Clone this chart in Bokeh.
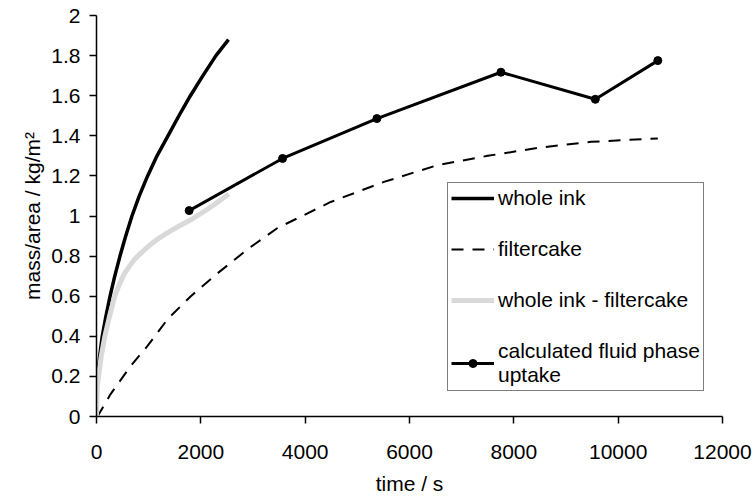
from bokeh.plotting import figure
from bokeh.models import Range1d, FixedTicker, NumeralTickFormatter, Legend, LegendItem
from bokeh.embed import file_html
from bokeh.resources import INLINE

# whole ink uptake (mass per area) against time
whole_t = [0, 20, 60, 110, 180, 260, 350, 450, 560, 680, 820, 980, 1160, 1370,
           1580, 1800, 2040, 2290, 2530]
whole_v = [0, 0.2, 0.3, 0.4, 0.5, 0.6, 0.7, 0.8, 0.9, 1.0, 1.1, 1.2, 1.3, 1.4,
           1.5, 1.6, 1.7, 1.8, 1.88]

# filtercake mass per area
cake_t = [0, 30, 274, 658, 978, 1361, 1808, 2300, 2926, 3470, 4490, 5510, 6540,
          7500, 8520, 9480, 10760]
cake_v = [0, 0.005, 0.113, 0.253, 0.352, 0.485, 0.60, 0.71, 0.84, 0.94, 1.07, 1.17,
          1.254, 1.30, 1.342, 1.37, 1.387]

# whole ink minus filtercake
diff_t = [0, 15, 40, 90, 160, 250, 350, 440, 530, 620, 720, 850, 1000, 1170, 1350,
          1550, 1800, 2050, 2300, 2537]
diff_v = [0, 0.15, 0.2, 0.3, 0.4, 0.5, 0.6, 0.66, 0.71, 0.745, 0.78, 0.815, 0.85,
          0.885, 0.915, 0.945, 0.98, 1.02, 1.065, 1.11]

# calculated fluid phase uptake
calc_t = [1776, 3567, 5375, 7753, 9562, 10760]
calc_v = [1.027, 1.287, 1.486, 1.717, 1.582, 1.775]

x_ticks = [0, 2000, 4000, 6000, 8000, 10000, 12000]
y_ticks = [0, 0.2, 0.4, 0.6, 0.8, 1.0, 1.2, 1.4, 1.6, 1.8, 2.0]

FONT = "Liberation Sans"
FS = "21px"

p = figure(width=754, height=497, output_backend="svg", toolbar_location=None,
           x_range=Range1d(0, 12000), y_range=Range1d(0, 2),
           min_border_left=96, min_border_right=32, min_border_top=15,
           min_border_bottom=79)
p.outline_line_color = None
p.xgrid.visible = False
p.ygrid.visible = False
p.background_fill_color = "white"
p.border_fill_color = "white"

r_whole = p.line(whole_t, whole_v, line_color="black", line_width=3.5,
                 line_join="round")
r_cake = p.line(cake_t, cake_v, line_color="black", line_width=2, line_dash="12 9")
r_diff = p.line(diff_t, diff_v, line_color="#d9d9d9", line_width=5,
                line_join="round")
r_calc = p.line(calc_t, calc_v, line_color="black", line_width=3)
r_calc_pts = p.scatter(calc_t, calc_v, size=8, marker="circle",
                       fill_color="black", line_color="black")

for ax in (p.xaxis[0], p.yaxis[0]):
    ax.axis_line_color = "black"
    ax.axis_line_width = 1.5
    ax.major_tick_line_color = "black"
    ax.major_tick_line_width = 1.5
    ax.major_tick_out = 7
    ax.major_tick_in = 0
    ax.minor_tick_line_color = None
    ax.major_label_text_font = FONT
    ax.major_label_text_font_size = FS
    ax.major_label_text_color = "black"
    ax.axis_label_text_font = FONT
    ax.axis_label_text_font_size = FS
    ax.axis_label_text_font_style = "normal"
    ax.axis_label_text_color = "black"

p.xaxis.ticker = FixedTicker(ticks=x_ticks)
p.xaxis.formatter = NumeralTickFormatter(format="0")
p.xaxis.major_label_standoff = 21
p.xaxis.axis_label = "time / s"
p.xaxis.axis_label_standoff = 10

p.yaxis.ticker = FixedTicker(ticks=y_ticks)
p.yaxis.formatter = NumeralTickFormatter(format="0.[0]")
p.yaxis.major_label_standoff = 9
p.yaxis.axis_label = "mass/area / kg/m²"
p.yaxis.axis_label_standoff = 4

legend = Legend(items=[
    LegendItem(label="whole ink", renderers=[r_whole]),
    LegendItem(label="filtercake", renderers=[r_cake]),
    LegendItem(label="whole ink - filtercake", renderers=[r_diff]),
    LegendItem(label="calculated fluid phase\nuptake", renderers=[r_calc, r_calc_pts]),
], location=(351, 25))
legend.label_text_font = FONT
legend.label_text_font_size = FS
legend.label_text_color = "black"
legend.glyph_width = 43
legend.glyph_height = 20
legend.label_standoff = 4
legend.padding = 3
legend.spacing = 27
legend.border_line_color = "black"
legend.border_line_width = 1.5
legend.background_fill_color = "white"
legend.background_fill_alpha = 1
p.add_layout(legend, "center")

open("out.html", "w").write(file_html(p, INLINE))
